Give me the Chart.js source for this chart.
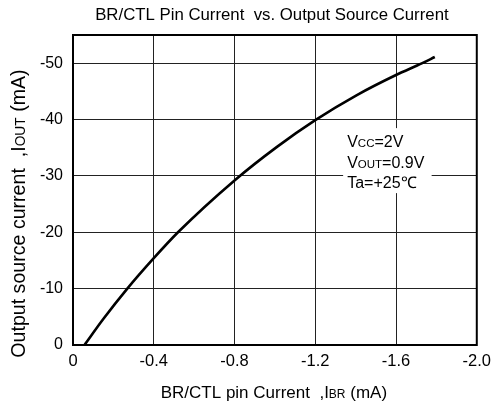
<!DOCTYPE html>
<html>
<head>
<meta charset="utf-8">
<script src="https://cdn.jsdelivr.net/npm/chart.js@4/dist/chart.umd.min.js"></script>
<style>
html,body{margin:0;padding:0;background:#fff;}
#wrap{width:498px;height:405px;position:relative;}
</style>
</head>
<body>
<div id="wrap"><canvas id="c" width="498" height="405"></canvas></div>
<script>
// Data
const iBR  = [-0.057, -0.15, -0.269, -0.4, -0.52, -0.8, -1.012, -1.2, -1.404, -1.6, -1.73, -1.792];
const iOUT = [0, -4.6, -10, -15.4, -20, -29.2, -35.2, -39.9, -44.3, -47.9, -50, -51.1];
const xTicks = [0, -0.4, -0.8, -1.2, -1.6, -2.0];
const xTickLabels = ['0', '-0.4', '-0.8', '-1.2', '-1.6', '-2.0'];
const yTicks = [0, -10, -20, -30, -40, -50];
const yTickLabels = ['0', '-10', '-20', '-30', '-40', '-50'];
const titleText = 'BR/CTL Pin Current  vs. Output Source Current';
const xTitleParts = [['BR/CTL pin Current  ,I', 'n'], ['BR', 's'], [' (mA)', 'n']];
const yTitleParts = [['Output source current  ,I', 'n'], ['OUT', 's'], [' (mA)', 'n']];
const noteLines = [
  [['V', 'n'], ['CC', 's'], ['=2V', 'n']],
  [['V', 'n'], ['OUT', 's'], ['=0.9V', 'n']],
  [['Ta=+25\u2103', 'n']]
];

const FONT = '"Liberation Sans", Arial, sans-serif';
const points = iBR.map((x, i) => ({x: x, y: iOUT[i]}));

function drawParts(ctx, parts, x, y, nSize, sSize, align) {
  const widths = parts.map(p => {
    ctx.font = (p[1] === 's' ? sSize : nSize) + 'px ' + FONT;
    return ctx.measureText(p[0]).width;
  });
  const total = widths.reduce((a, b) => a + b, 0);
  let cx = align === 'center' ? x - total / 2 : x;
  ctx.textAlign = 'left';
  ctx.textBaseline = 'alphabetic';
  parts.forEach((p, i) => {
    ctx.font = (p[1] === 's' ? sSize : nSize) + 'px ' + FONT;
    ctx.fillText(p[0], cx, y);
    cx += widths[i];
  });
}

const deco = {
  id: 'deco',
  beforeDatasetsDraw(chart) {
    const ctx = chart.ctx;
    const xs = chart.scales.x, ys = chart.scales.y;
    // white box behind the note (interrupts the grid)
    ctx.save();
    ctx.fillStyle = '#fff';
    const bx = xs.getPixelForValue(-1.338), by = ys.getPixelForValue(-38.48);
    ctx.fillRect(bx, by, 88.5, 65);
    ctx.restore();
  },
  afterDraw(chart) {
    const ctx = chart.ctx;
    const a = chart.chartArea;
    const xs = chart.scales.x, ys = chart.scales.y;
    ctx.save();
    ctx.strokeStyle = '#000';
    ctx.lineWidth = 2;
    ctx.strokeRect(a.left, a.top, a.right - a.left, a.bottom - a.top);
    ctx.fillStyle = '#000';
    // note
    const nx = xs.getPixelForValue(-1.358);
    const ny = ys.getPixelForValue(-35.16);
    noteLines.forEach((ln, i) => drawParts(ctx, ln, nx, ny + i * 20.8, 16, 11.5, 'left'));
    // title
    ctx.font = '16.8px ' + FONT;
    ctx.textAlign = 'center';
    ctx.textBaseline = 'alphabetic';
    ctx.fillText(titleText, (a.left + a.right) / 2 - 3, 19.5);
    // x title
    drawParts(ctx, xTitleParts, (a.left + a.right) / 2 - 1, 397.5, 17, 12, 'center');
    // y title
    ctx.translate(24.5, 213.5);
    ctx.rotate(-Math.PI / 2);
    drawParts(ctx, yTitleParts, 0, 0, 19.6, 13.8, 'center');
    ctx.restore();
  }
};

new Chart(document.getElementById('c'), {
  type: 'scatter',
  data: {
    datasets: [{
      data: points,
      showLine: true,
      borderColor: '#000',
      borderWidth: 2.6,
      pointRadius: 0,
      cubicInterpolationMode: 'monotone',
      fill: false
    }]
  },
  options: {
    responsive: false,
    animation: false,
    layout: {padding: {top: 35, right: 16, left: 0, bottom: 0}},
    plugins: {legend: {display: false}, tooltip: {enabled: false}, title: {display: false}},
    scales: {
      x: {
        type: 'linear', min: -2, max: 0, reverse: true,
        afterBuildTicks: s => { s.ticks = xTicks.map(v => ({value: v})); },
        afterFit: s => { s.height = 60; },
        ticks: {
          callback: (v) => { const i = xTicks.findIndex(t => Math.abs(t - v) < 1e-9); return i >= 0 ? xTickLabels[i] : ''; },
          color: '#000', font: {size: 16.5, family: FONT}, padding: 7, maxRotation: 0
        },
        grid: {color: '#222', lineWidth: 1, drawTicks: false},
        border: {display: false}
      },
      y: {
        type: 'linear', min: -55, max: 0, reverse: true,
        afterBuildTicks: s => { s.ticks = yTicks.map(v => ({value: v})); },
        afterFit: s => { s.width = 73; },
        ticks: {
          callback: (v) => { const i = yTicks.findIndex(t => Math.abs(t - v) < 1e-9); return i >= 0 ? yTickLabels[i] : ''; },
          color: '#000', font: {size: 16, family: FONT}, padding: 10
        },
        grid: {color: '#222', lineWidth: 1, drawTicks: false},
        border: {display: false}
      }
    }
  },
  plugins: [deco]
});
</script>
</body>
</html>
